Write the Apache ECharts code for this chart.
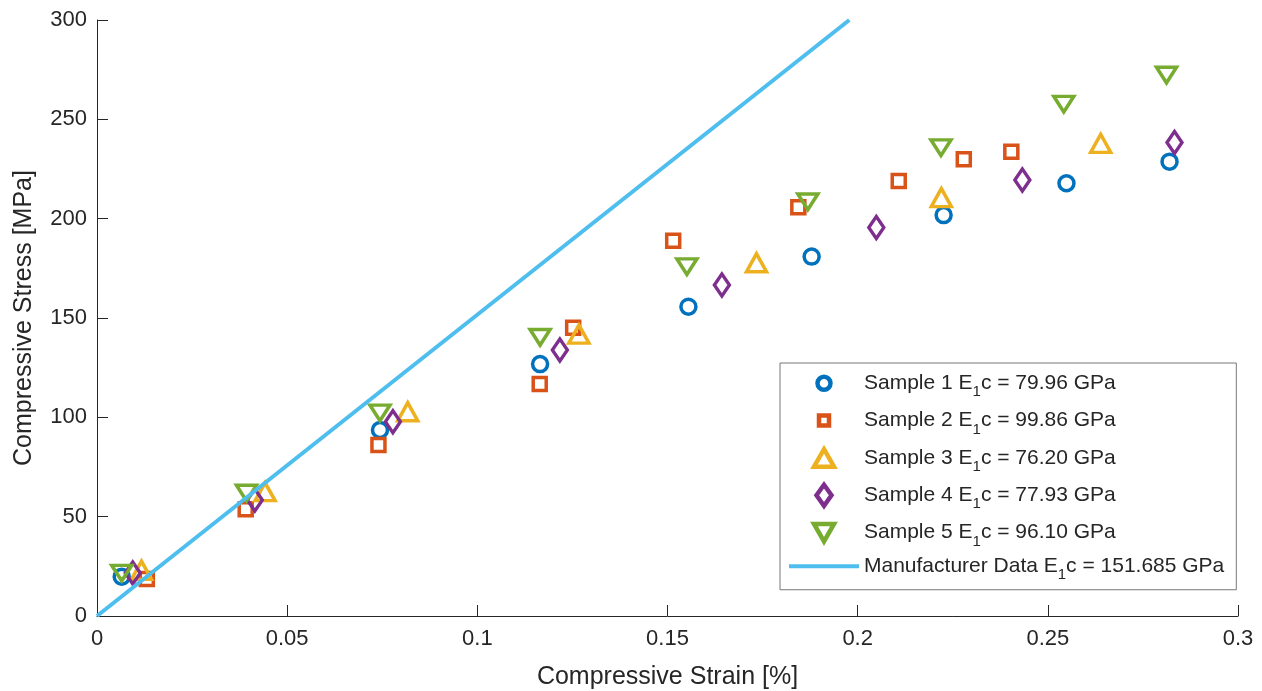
<!DOCTYPE html>
<html>
<head>
<meta charset="utf-8">
<script src="https://cdn.jsdelivr.net/npm/echarts@6/dist/echarts.min.js"></script>
<style>
  html, body { margin: 0; padding: 0; background: #fff; }
  #chart { width: 1262px; height: 691px; }
</style>
</head>
<body>
<div id="chart"></div>
<script>
// compressive stress-strain, five samples + manufacturer modulus line
const FONT = '"Liberation Sans", Arial, Helvetica, sans-serif';
const INK = '#262626';

const sampleNames = [
  'Sample 1 E1c = 79.96 GPa',
  'Sample 2 E1c = 99.86 GPa',
  'Sample 3 E1c = 76.20 GPa',
  'Sample 4 E1c = 77.93 GPa',
  'Sample 5 E1c = 96.10 GPa',
];
const lineName = 'Manufacturer Data E1c = 151.685 GPa';

const strain1 = [0.0065, 0.0744, 0.1165, 0.1555, 0.1879, 0.2226, 0.2549, 0.2820];
const stress1 = [19.8, 93.6, 126.8, 155.7, 180.9, 201.8, 217.8, 228.7];

const strain2 = [0.0131, 0.0391, 0.0740, 0.1164, 0.1252, 0.1515, 0.1844, 0.2108, 0.2279, 0.2404];
const stress2 = [18.6, 53.7, 86.1, 116.8, 145.1, 188.9, 205.7, 219.0, 229.9, 233.7];

const strain3 = [0.0117, 0.0442, 0.0817, 0.1267, 0.1734, 0.2220, 0.2639];
const stress3 = [23.0, 62.6, 102.8, 141.9, 177.8, 210.6, 237.9];

const strain4 = [0.0094, 0.0415, 0.0778, 0.1217, 0.1643, 0.2049, 0.2433, 0.2833];
const stress4 = [21.6, 58.4, 97.8, 133.9, 166.6, 195.5, 219.5, 238.4];

const strain5 = [0.0065, 0.0393, 0.0744, 0.1165, 0.1551, 0.1869, 0.2219, 0.2542, 0.2812];
const stress5 = [21.6, 61.9, 102.2, 140.3, 175.8, 208.5, 235.7, 257.6, 272.3];

const mfrStrain = [0, 0.1978];
const mfrStress = [0, 300];

const COLORS = ['#0072BD', '#D95319', '#EDB120', '#7E2F8E', '#77AC30'];
const SYMBOLS = ['circle', 'rect', 'triangle', 'diamond', 'path://M0,0L20,0L10,17.32Z'];
const SIZES = [15, 13, [20, 18], [15, 22], [20, 18]];

// legend icons live in a fixed 24x24 box (the leading moves pin the box) so they keep their own sizes
const BOX = 'path://M0,0M24,24';
const LEGEND_ICONS = [
  BOX + 'M5.5,12A6.5,6.5 0 1 1 18.5,12A6.5,6.5 0 1 1 5.5,12Z',
  BOX + 'M7,7L17,7L17,17L7,17Z',
  BOX + 'M12,3.25L22,20.75L2,20.75Z',
  BOX + 'M12,1.5L19.5,12L12,22.5L4.5,12Z',
  BOX + 'M2,3.25L22,3.25L12,20.75Z',
];

const strains = [strain1, strain2, strain3, strain4, strain5];
const stresses = [stress1, stress2, stress3, stress4, stress5];

const pairs = (xs, ys) => xs.map((x, i) => [x, ys[i]]);

const axisCommon = {
  type: 'value',
  axisLine: { show: true, lineStyle: { color: INK, width: 1 } },
  axisTick: { show: true, inside: true, length: 11, lineStyle: { color: INK } },
  splitLine: { show: false },
  nameLocation: 'middle',
  nameTextStyle: { fontSize: 25, color: INK, fontFamily: FONT },
};

const scatter = sampleNames.map((name, i) => ({
  name, type: 'scatter',
  data: pairs(strains[i], stresses[i]),
  symbol: SYMBOLS[i], symbolSize: SIZES[i], symbolKeepAspect: true,
  itemStyle: { color: 'rgba(255,255,255,0)', borderColor: COLORS[i], borderWidth: 3.5, opacity: 1 },
  emphasis: { disabled: true },
}));

// "E1c" -> E with subscript 1
const legendLabel = (name) => {
  const [a, b] = name.split('E1c');
  return '{t|' + a + 'E}{sub|1}{t|c' + b + '}';
};

const option = {
  animation: false,
  backgroundColor: '#fff',
  textStyle: { fontFamily: FONT },
  grid: { left: 97, right: 24, top: 20, bottom: 75, containLabel: false, outerBoundsMode: 'none' },
  xAxis: {
    ...axisCommon, min: 0, max: 0.3, interval: 0.05,
    name: 'Compressive Strain [%]', nameGap: 49,
    axisLabel: { fontSize: 22, color: INK, fontFamily: FONT, margin: 12,
      formatter: (v) => String(+v.toFixed(2)) },
  },
  yAxis: {
    ...axisCommon, min: 0, max: 300, interval: 50,
    name: 'Compressive Stress [MPa]', nameGap: 60,
    axisLabel: { fontSize: 22, color: INK, fontFamily: FONT, margin: 10 },
  },
  legend: {
    orient: 'vertical', left: 780, top: 363,
    padding: [6, 12, 7, 7], itemGap: 6.6,
    itemWidth: 70, itemHeight: 24,
    backgroundColor: '#fff', borderColor: '#777', borderWidth: 1,
    selectedMode: false,
    itemStyle: { borderWidth: 4.5 },
    lineStyle: { width: 4 },
    formatter: legendLabel,
    textStyle: {
      color: INK, fontFamily: FONT, fontSize: 21,
      rich: {
        t: { fontSize: 21, lineHeight: 21, verticalAlign: 'top', color: INK, fontFamily: FONT },
        sub: { fontSize: 15, lineHeight: 16, verticalAlign: 'top', padding: [12, 0, 0, 0], color: INK, fontFamily: FONT },
      },
    },
    data: [
      ...sampleNames.map((name, i) => ({ name, icon: LEGEND_ICONS[i], itemStyle: { borderWidth: 4.5 } })),
      { name: lineName, itemStyle: { opacity: 0, borderWidth: 0 } },
    ],
  },
  series: [
    ...scatter,
    {
      name: lineName, type: 'line',
      data: pairs(mfrStrain, mfrStress),
      showSymbol: false, symbol: 'none',
      lineStyle: { color: '#4DBEEE', width: 4 },
      itemStyle: { color: '#4DBEEE' },
      emphasis: { disabled: true },
    },
  ],
};

const chart = echarts.init(document.getElementById('chart'), null, { renderer: 'canvas' });
chart.setOption(option);
</script>
</body>
</html>
